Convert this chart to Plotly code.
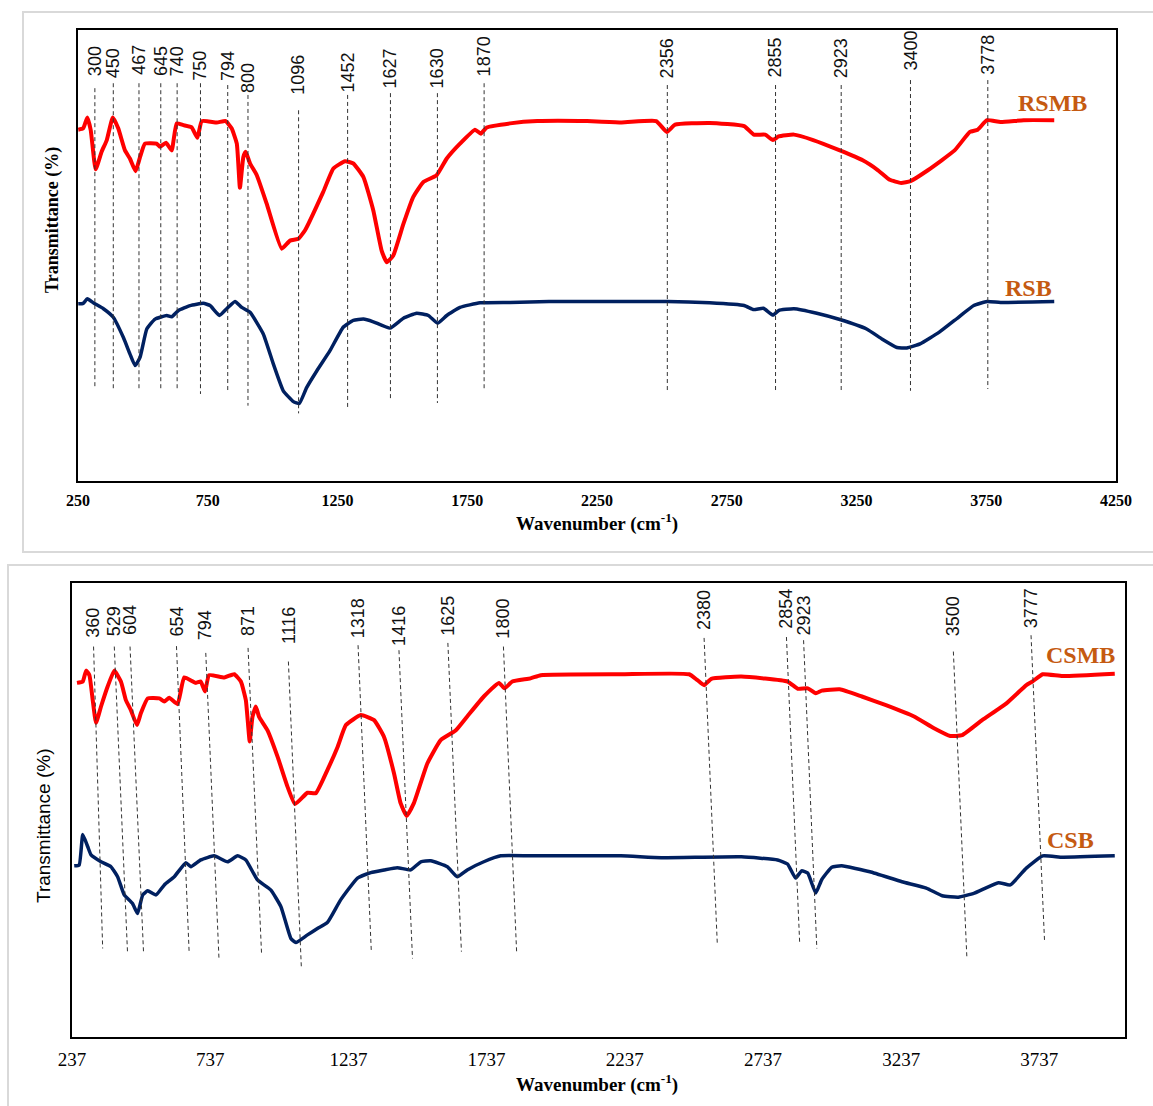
import plotly.graph_objects as go

# ---------------- DATA ----------------
# Panel 1 (RS)
rsmb_wn = [251, 270, 286, 299, 318, 341, 361, 384, 405, 431, 450, 472, 489, 508, 553, 566, 589, 611, 630, 656,
           688, 710, 727, 785, 819, 842, 862, 874, 887, 896, 913, 939, 977, 1035, 1067, 1099, 1125, 1195, 1234,
           1279, 1311, 1350, 1388, 1420, 1440, 1465, 1504, 1542, 1581, 1632, 1671, 1722, 1780, 1802, 1825, 1915,
           2020, 2212, 2345, 2478, 2519, 2551, 2684, 2817, 2854, 2898, 2928, 2950, 3009, 3083, 3186, 3274, 3333,
           3378, 3422, 3458, 3525, 3628, 3687, 3717, 3753, 3805, 3894, 4012]
rsmb_t = [77.9, 78.2, 80.6, 77.8, 69.1, 73.0, 75.6, 80.6, 78.2, 73.3, 71.5, 68.7, 71.8, 74.8, 74.8, 74.1, 75.0, 73.3,
          79.3, 78.9, 78.4, 76.1, 79.8, 79.5, 79.8, 78.2, 74.8, 65.0, 71.8, 73.0, 70.4, 67.8, 61.5, 51.5, 53.3, 53.7,
          55.6, 64.1, 69.3, 70.9, 70.4, 67.4, 60.0, 51.1, 48.5, 50.0, 57.0, 63.0, 66.3, 67.8, 71.5, 74.8, 77.9, 77.0,
          78.4, 79.3, 79.8, 79.8, 79.5, 79.8, 77.4, 79.0, 79.4, 78.7, 76.8, 76.8, 75.6, 76.4, 76.8, 75.6, 73.3, 71.1,
          68.9, 66.8, 66.1, 66.5, 68.9, 73.3, 77.4, 77.9, 80.0, 79.6, 80.0, 80.0]

rsb_wn = [251, 270, 286, 309, 348, 386, 425, 450, 470, 489, 515, 547, 592, 611, 637, 682, 733, 759, 795, 823, 855,
          881, 913, 964, 1003, 1041, 1080, 1103, 1131, 1170, 1221, 1272, 1311, 1350, 1388, 1452, 1504, 1555, 1600,
          1636, 1671, 1722, 1799, 1915, 2065, 2316, 2522, 2684, 2817, 2854, 2891, 2928, 2950, 3009, 3097, 3186,
          3289, 3348, 3406, 3444, 3495, 3569, 3643, 3702, 3753, 3805, 4012]
rsb_t = [39.3, 39.4, 40.4, 39.5, 38.2, 36.3, 31.8, 28.2, 25.6, 27.4, 33.7, 35.9, 36.7, 36.4, 37.8, 38.9, 39.4, 38.9,
         36.7, 38.2, 39.8, 38.5, 37.4, 32.6, 25.9, 20.0, 17.6, 17.2, 20.7, 24.4, 28.9, 34.1, 35.6, 35.9, 35.3, 33.9,
         36.1, 37.2, 36.7, 35.0, 36.7, 38.5, 39.5, 39.6, 39.8, 39.8, 39.8, 39.5, 38.9, 38.0, 38.3, 36.8, 37.8, 38.2,
         37.2, 35.8, 33.7, 31.5, 29.6, 29.5, 30.4, 33.0, 36.3, 38.9, 39.8, 39.6, 39.8]

rs_peak_labels = ["300", "450", "467", "645", "740", "750", "794", "800", "1096", "1452", "1627", "1630", "1870",
                  "2356", "2855", "2923", "3400", "3778"]
rs_peak_wn = [315, 386, 485, 569, 632, 722, 827, 905, 1100, 1289, 1454, 1635, 1815, 2521, 2938, 3191, 3458, 3756]
rs_line_top = [87.1, 88.2, 88.2, 88.2, 88.2, 88.2, 87.8, 85.6, 82.2, 85.6, 86.0, 86.0, 88.2, 87.8, 87.8, 87.8, 88.9, 88.9]
rs_line_bot = [20.4, 20.4, 20.0, 20.2, 20.4, 19.3, 20.0, 16.7, 15.0, 16.2, 17.8, 17.3, 20.0, 19.6, 19.6, 19.6, 20.0, 20.4]
rs_label_y = [89.3, 88.9, 89.6, 89.3, 89.3, 88.4, 88.2, 85.6, 85.1, 85.6, 86.7, 86.7, 89.3, 88.9, 88.9, 88.9, 90.7, 89.6]

# Panel 2 (CS)
csmb_wn = [255, 276, 288, 300, 312, 324, 342, 366, 390, 414, 432, 450, 472, 486, 511, 553, 571, 589, 619, 643, 685,
           703, 718, 733, 788, 824, 848, 866, 880, 890, 902, 914, 944, 981, 1017, 1044, 1089, 1119, 1161, 1198,
           1228, 1282, 1330, 1366, 1402, 1426, 1448, 1474, 1523, 1571, 1625, 1667, 1727, 1782, 1802, 1830, 1896,
           1933, 2223, 2470, 2500, 2524, 2550, 2659, 2826, 2863, 2899, 2928, 2950, 3015, 3095, 3182, 3284, 3356,
           3415, 3458, 3530, 3618, 3690, 3712, 3749, 3821, 4010]
csmb_t = [78.0, 78.3, 80.7, 79.7, 74.2, 69.2, 72.8, 77.2, 80.7, 78.3, 74.2, 72.0, 68.7, 71.3, 74.6, 74.6, 73.9, 74.7,
          73.3, 79.2, 78.0, 78.3, 76.1, 79.7, 79.2, 79.9, 78.3, 74.2, 65.1, 70.5, 72.8, 70.5, 67.6, 61.7, 55.1, 51.3,
          53.8, 53.7, 58.8, 63.9, 68.7, 70.9, 69.8, 66.1, 58.1, 51.5, 48.7, 51.5, 60.3, 65.4, 67.5, 70.6, 75.0, 78.0,
          76.8, 78.3, 79.0, 79.7, 79.9, 79.9, 78.6, 77.5, 78.9, 79.4, 78.3, 76.7, 76.8, 75.7, 76.3, 76.6, 75.0, 73.1,
          70.6, 68.0, 66.3, 66.5, 69.8, 73.5, 77.5, 78.3, 79.9, 79.5, 80.0]

csb_wn = [245, 263, 276, 294, 306, 342, 378, 402, 426, 456, 474, 493, 511, 541, 571, 607, 649, 667, 703, 751, 800,
          836, 866, 908, 956, 993, 1029, 1047, 1089, 1125, 1161, 1209, 1270, 1318, 1366, 1414, 1462, 1499, 1535,
          1595, 1631, 1667, 1727, 1788, 1896, 2223, 2369, 2659, 2790, 2826, 2855, 2877, 2899, 2928, 2950, 2986,
          3022, 3124, 3240, 3328, 3386, 3444, 3502, 3589, 3632, 3690, 3749, 3821, 4010]
csb_t = [37.7, 37.9, 44.6, 41.9, 40.1, 38.6, 37.5, 35.3, 31.3, 29.4, 27.2, 31.3, 32.2, 31.3, 33.5, 35.3, 38.4, 37.5,
         39.0, 39.9, 38.6, 39.9, 39.0, 34.6, 32.4, 28.7, 21.7, 20.8, 22.5, 23.9, 25.2, 30.2, 35.0, 36.2, 36.8, 37.3,
         36.8, 38.6, 38.8, 37.5, 35.3, 36.8, 38.6, 39.9, 39.9, 39.9, 39.5, 39.7, 39.0, 38.1, 35.0, 36.6, 36.1, 31.7,
         34.7, 37.4, 37.7, 36.4, 34.2, 32.8, 31.1, 30.8, 31.7, 34.0, 33.5, 37.2, 39.9, 39.6, 39.9]

cs_peak_labels = ["360", "529", "604", "654", "794", "871", "1116", "1318", "1416", "1625", "1800",
                  "2380", "2854", "2923", "3500", "3777"]
cs_line_top_wn = [315, 390, 447, 615, 721, 874, 1020, 1272, 1420, 1597, 1798, 2524, 2822, 2884, 3426, 3707]
cs_line_top = [86.0, 86.0, 86.0, 86.1, 84.6, 85.7, 82.7, 86.3, 85.2, 86.8, 86.0, 87.9, 88.1, 87.4, 84.9, 88.5]
cs_line_bot_wn = [348, 438, 496, 661, 769, 923, 1067, 1320, 1469, 1646, 1846, 2572, 2870, 2932, 3475, 3756]
cs_line_bot = [19.5, 18.4, 18.4, 18.4, 17.0, 18.1, 15.1, 18.8, 17.3, 18.8, 18.4, 20.3, 20.6, 19.5, 17.3, 21.0]
cs_label_y = [87.4, 87.9, 88.1, 87.9, 86.9, 87.9, 86.1, 87.4, 85.7, 87.9, 87.4, 89.2, 89.6, 87.9, 87.9, 89.6]

# ---------------- STYLE ----------------
W, H = 1153, 1106
RED = "#FF0000"
NAVY = "#002060"
LABEL_C = "#C55A11"
DASH_C = "#333333"
NUM_FONT = "Liberation Sans Narrow, Arial Narrow, Liberation Sans, Arial, sans-serif"
SERIF = "Liberation Serif, Times New Roman, serif"


def px_x(p):
    return p / W


def px_y(p):
    return (H - p) / H


fig = go.Figure()

# spectra
fig.add_trace(go.Scatter(x=rsmb_wn, y=rsmb_t, mode="lines", name="RSMB", xaxis="x", yaxis="y",
                         line=dict(color=RED, width=4, shape="spline", smoothing=0.4)))
fig.add_trace(go.Scatter(x=rsb_wn, y=rsb_t, mode="lines", name="RSB", xaxis="x", yaxis="y",
                         line=dict(color=NAVY, width=3.5, shape="spline", smoothing=0.4)))
fig.add_trace(go.Scatter(x=csmb_wn, y=csmb_t, mode="lines", name="CSMB", xaxis="x2", yaxis="y2",
                         line=dict(color=RED, width=4, shape="spline", smoothing=0.4)))
fig.add_trace(go.Scatter(x=csb_wn, y=csb_t, mode="lines", name="CSB", xaxis="x2", yaxis="y2",
                         line=dict(color=NAVY, width=3.5, shape="spline", smoothing=0.4)))

shapes = []
annotations = []

# dashed peak lines + labels, panel 1
for lab, xw, yt, yb, ly in zip(rs_peak_labels, rs_peak_wn, rs_line_top, rs_line_bot, rs_label_y):
    shapes.append(dict(type="line", xref="x", yref="y", x0=xw, x1=xw, y0=yt, y1=yb,
                       line=dict(color=DASH_C, width=1, dash="4px,3px")))
    annotations.append(dict(xref="x", yref="y", x=xw, y=ly, text=lab, showarrow=False, textangle=-90,
                            xanchor="center", yanchor="bottom",
                            font=dict(family=NUM_FONT, size=18, color="#111111")))

# dashed peak lines + labels, panel 2
for lab, xt, yt, xb, yb, ly in zip(cs_peak_labels, cs_line_top_wn, cs_line_top, cs_line_bot_wn, cs_line_bot,
                                   cs_label_y):
    shapes.append(dict(type="line", xref="x2", yref="y2", x0=xt, x1=xb, y0=yt, y1=yb,
                       line=dict(color=DASH_C, width=1, dash="4px,3px")))
    annotations.append(dict(xref="x2", yref="y2", x=xt, y=ly, text=lab, showarrow=False, textangle=-90,
                            xanchor="center", yanchor="bottom",
                            font=dict(family=NUM_FONT, size=18, color="#111111")))

# series labels
for txt, xr, yr, xv, yv in [("RSMB", "x", "y", 4004, 83.8), ("RSB", "x", "y", 3911, 42.9),
                            ("CSMB", "x2", "y2", 3885, 84.1), ("CSB", "x2", "y2", 3849, 43.4)]:
    annotations.append(dict(xref=xr, yref=yr, x=xv, y=yv, text=txt, showarrow=False,
                            xanchor="center", yanchor="middle",
                            font=dict(family=SERIF, size=24, color=LABEL_C, weight="bold")))

# axis titles
annotations.append(dict(xref="paper", yref="paper", x=px_x(597), y=px_y(522), text="Wavenumber (cm<sup>-1</sup>)",
                        showarrow=False, xanchor="center", yanchor="middle",
                        font=dict(family=SERIF, size=19, color="black", weight="bold")))
annotations.append(dict(xref="paper", yref="paper", x=px_x(52), y=px_y(220), text="Transmittance (%)",
                        showarrow=False, textangle=-90, xanchor="center", yanchor="middle",
                        font=dict(family=SERIF, size=18, color="black", weight="bold")))
annotations.append(dict(xref="paper", yref="paper", x=px_x(597), y=px_y(1083), text="Wavenumber (cm<sup>-1</sup>)",
                        showarrow=False, xanchor="center", yanchor="middle",
                        font=dict(family=SERIF, size=19, color="black", weight="bold")))
annotations.append(dict(xref="paper", yref="paper", x=px_x(43), y=px_y(826), text="Transmittance (%)",
                        showarrow=False, textangle=-90, xanchor="center", yanchor="middle",
                        font=dict(family="Liberation Sans, Arial, sans-serif", size=19, color="black")))

# outer light frames
shapes.append(dict(type="rect", xref="paper", yref="paper", x0=px_x(23), x1=1.02, y0=px_y(552), y1=px_y(12),
                   line=dict(color="#d9d9d9", width=2), layer="below"))
shapes.append(dict(type="rect", xref="paper", yref="paper", x0=px_x(8), x1=1.02, y0=-0.02, y1=px_y(565),
                   line=dict(color="#d9d9d9", width=2), layer="below"))

axis_common = dict(showgrid=False, zeroline=False, showline=True, mirror=True, linecolor="black", linewidth=1.5,
                   automargin=False)

fig.update_layout(
    template="none",
    width=W, height=H, autosize=False, margin=dict(l=0, r=0, t=0, b=0, pad=0),
    paper_bgcolor="white", plot_bgcolor="white", showlegend=False,
    xaxis=dict(domain=[px_x(78), px_x(1116)], range=[250, 4250], anchor="y", tick0=250, dtick=500,
               ticks="outside", ticklen=4, tickcolor="rgba(0,0,0,0)",
               tickfont=dict(family=SERIF, size=16, color="black", weight="bold"), **axis_common),
    yaxis=dict(domain=[px_y(481), px_y(30)], range=[0, 100], anchor="x", showticklabels=False, ticks="",
               **axis_common),
    xaxis2=dict(domain=[px_x(72), px_x(1125)], range=[237, 4047], anchor="y2", tick0=237, dtick=500,
                ticks="outside", ticklen=4, tickcolor="rgba(0,0,0,0)",
                tickfont=dict(family=SERIF, size=19, color="black"), **axis_common),
    yaxis2=dict(domain=[px_y(1037), px_y(583)], range=[0, 100], anchor="x2", showticklabels=False, ticks="",
                **axis_common),
    shapes=shapes,
    annotations=annotations,
)

fig.write_html("out.html", config={"responsive": False, "displayModeBar": False},
               default_width="1153px", default_height="1106px",
               post_script="document.body.style.margin='0';document.body.style.overflow='hidden';")
